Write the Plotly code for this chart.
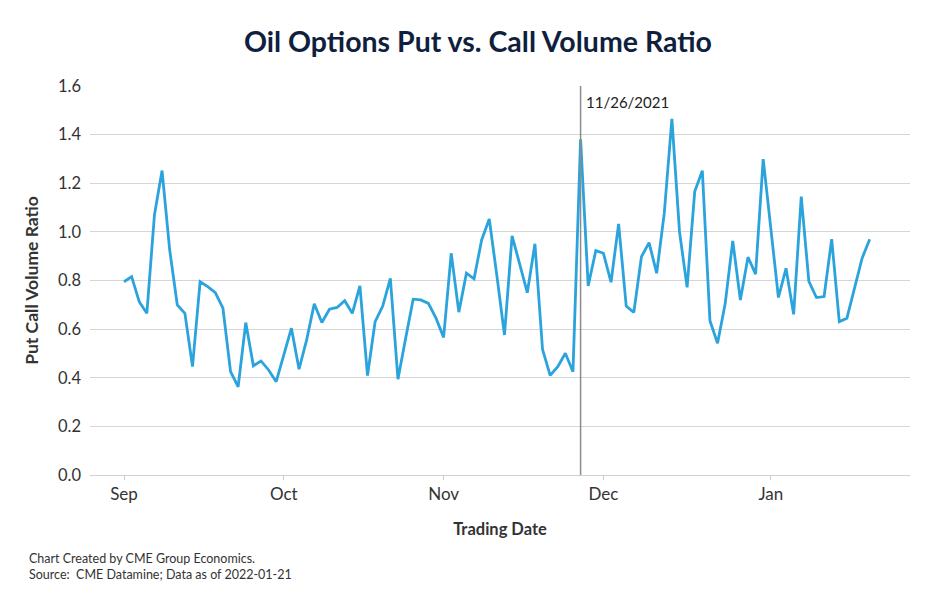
import pandas as pd
import plotly.graph_objects as go

title = "Oil Options Put vs. Call Volume Ratio"
holidays = ["2021-09-06", "2021-11-25", "2021-12-24", "2022-01-17"]
trade_dates = [d.strftime("%Y-%m-%d") for d in pd.bdate_range("2021-09-01", "2022-01-21")
               if d.strftime("%Y-%m-%d") not in holidays]

ratio_sep = [0.795, 0.816, 0.713, 0.665, 1.07, 1.252, 0.926, 0.70, 0.665, 0.446, 0.795,
             0.775, 0.75, 0.686, 0.425, 0.363, 0.627, 0.449, 0.469, 0.432, 0.384]
ratio_oct = [0.49, 0.604, 0.435, 0.556, 0.704, 0.627, 0.682, 0.689, 0.717, 0.665, 0.778,
             0.409, 0.631, 0.695, 0.809, 0.394, 0.56, 0.723, 0.72, 0.706, 0.645]
ratio_nov = [0.566, 0.912, 0.670, 0.830, 0.807, 0.967, 1.053, 0.82, 0.576, 0.984, 0.87,
             0.750, 0.951, 0.517, 0.410, 0.446, 0.501, 0.425, 1.381, 0.778, 0.923]
ratio_dec = [0.912, 0.793, 1.033, 0.695, 0.669, 0.898, 0.956, 0.830, 1.077, 1.465, 1.001,
             0.772, 1.166, 1.252, 0.635, 0.542, 0.704, 0.963, 0.72, 0.896, 0.826, 1.299]
ratio_jan = [1.0, 0.73, 0.85, 0.661, 1.145, 0.796, 0.73, 0.734, 0.97, 0.631, 0.645,
             0.775, 0.892, 0.97]
ratio = ratio_sep + ratio_oct + ratio_nov + ratio_dec + ratio_jan

tick_vals = ["2021-09-01", "2021-10-01", "2021-11-01", "2021-12-01", "2022-01-03"]
tick_text = ["Sep", "Oct", "Nov", "Dec", "Jan"]
event_date = "2021-11-26"
event_label = "11/26/2021"

FONT = "Lato"
fig = go.Figure()
fig.add_trace(go.Scatter(x=trade_dates, y=ratio, mode="lines",
                         line=dict(color="#2ba3dc", width=2.8), showlegend=False))

fig.add_shape(type="line", x0=event_date, x1=event_date, y0=0, y1=1, yref="paper",
              line=dict(color="#8c8c8c", width=1.5))
fig.add_annotation(x=event_date, y=1.535, text=event_label, showarrow=False,
                   xanchor="left", yanchor="middle", xshift=3,
                   font=dict(family=FONT, size=15, color="#222222"))

fig.update_layout(
    width=940, height=600,
    margin=dict(l=82, r=38, t=78, b=133),
    paper_bgcolor="white", plot_bgcolor="white",
    title=dict(text="<b>" + title + "</b>", x=0.5, xanchor="center", y=0.943, yanchor="middle",
               font=dict(family=FONT, size=28.5, color="#0f1f3d")),
    font=dict(family=FONT, color="#333333"),
)
fig.update_xaxes(
    type="date",
    range=["2021-08-25 12:43", "2022-01-28 07:00"],
    rangebreaks=[dict(bounds=["sat", "mon"]), dict(values=holidays)],
    tickvals=tick_vals, ticktext=tick_text,
    ticks="outside", ticklen=4, tickcolor="#cccccc",
    showgrid=False, showline=True, linecolor="#d0d0d0", linewidth=1,
    tickfont=dict(family=FONT, size=17, color="#333333"),
    title=dict(text="<b>Trading Date</b>", standoff=20,
               font=dict(family=FONT, size=16.5, color="#333333")),
)
fig.update_yaxes(
    range=[0, 1.6], dtick=0.2, tickformat=".1f",
    showgrid=True, gridcolor="#d6d6d6", gridwidth=1, zeroline=False,
    ticks="", ticklabelstandoff=8,
    tickfont=dict(family=FONT, size=16.5, color="#333333"),
    title=dict(text="<b>Put Call Volume Ratio</b>", standoff=14,
               font=dict(family=FONT, size=17.5, color="#333333")),
)
fig.add_annotation(xref="paper", yref="paper", x=-0.0768, y=-0.19, xanchor="left", yanchor="top",
                   align="left", showarrow=False,
                   text="Chart Created by CME Group Economics.<br>Source:  CME Datamine; Data as of 2022-01-21",
                   font=dict(family=FONT, size=12.5, color="#333333"))

fig.write_html("out.html")
